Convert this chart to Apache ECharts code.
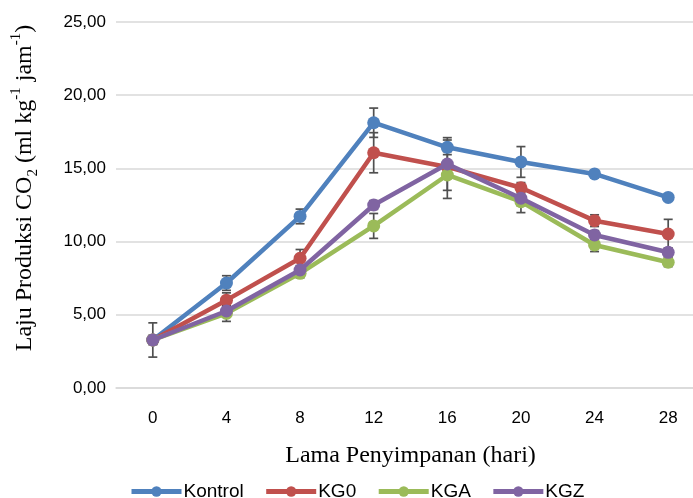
<!DOCTYPE html>
<html>
<head>
<meta charset="utf-8">
<script src="https://cdn.jsdelivr.net/npm/echarts@6/dist/echarts.min.js"></script>
<style>
html,body{margin:0;padding:0;background:#fff;}
#chart{width:693px;height:498px;}
</style>
</head>
<body>
<div id="chart"></div>
<script>
const categories = ['0','4','8','12','16','20','24','28'];
const seriesNames = ['Kontrol','KG0','KGA','KGZ'];
const kontrol = [3.28, 7.17, 11.72, 18.12, 16.44, 15.44, 14.62, 13.02];
const kg0     = [3.28, 6.00, 8.86, 16.07, 15.10, 13.68, 11.43, 10.52];
const kga     = [3.28, 5.10, 7.83, 11.07, 14.55, 12.73, 9.77, 8.59];
const kgz     = [3.28, 5.26, 8.06, 12.50, 15.30, 12.96, 10.45, 9.27];
const errKontrol = [1.17, 0.50, 0.50, 1.00, 0.50, 1.05, 0.20, 0.15];
const errKg0     = [0.30, 0.50, 0.60, 1.37, 0.30, 0.35, 0.40, 1.00];
const errKga     = [0.30, 0.55, 0.30, 0.85, 1.60, 0.75, 0.45, 0.30];
const errKgz     = [0.30, 0.30, 0.30, 0.30, 1.80, 0.50, 0.30, 0.30];
const yTicks = [0, 5, 10, 15, 20, 25];
const colors = ['#4F81BD', '#C0504D', '#9BBB59', '#8064A2'];

const values = [kontrol, kg0, kga, kgz];
const errors = [errKontrol, errKg0, errKga, errKgz];

const chart = echarts.init(document.getElementById('chart'), null, {renderer: 'canvas'});

function errorSeries(vals, errs, idx) {
  return {
    type: 'custom',
    name: seriesNames[idx] + '_err',
    z: 1,
    silent: true,
    data: vals.map((v, i) => [i, v - errs[i], v + errs[i]]),
    renderItem: function (params, api) {
      const x = api.value(0);
      const lo = api.coord([x, api.value(1)]);
      const hi = api.coord([x, api.value(2)]);
      const hw = 4.5;
      const style = {stroke: '#505050', lineWidth: 1.7};
      return {
        type: 'group',
        children: [
          {type: 'line', shape: {x1: hi[0], y1: hi[1], x2: lo[0], y2: lo[1]}, style: style},
          {type: 'line', shape: {x1: hi[0] - hw, y1: hi[1], x2: hi[0] + hw, y2: hi[1]}, style: style},
          {type: 'line', shape: {x1: lo[0] - hw, y1: lo[1], x2: lo[0] + hw, y2: lo[1]}, style: style}
        ]
      };
    }
  };
}

const lineSeries = values.map((vals, i) => ({
  type: 'line',
  name: seriesNames[i],
  data: vals,
  z: 2 + i,
  symbol: 'circle',
  symbolSize: 13,
  color: colors[i],
  lineStyle: {width: 4.5, color: colors[i]},
  itemStyle: {color: colors[i]},
  animation: false
}));

const errSeries = values.map((vals, i) => errorSeries(vals, errors[i], i));

chart.setOption({
  animation: false,
  backgroundColor: '#ffffff',
  grid: {left: 116, top: 22, height: 366, width: 589, outerBoundsMode: 'none', containLabel: false},
  legend: {
    data: seriesNames,
    top: 477,
    left: 124,
    itemWidth: 50,
    itemHeight: 13,
    itemGap: 20,
    lineStyle: {width: 5},
    textStyle: {fontFamily: 'Liberation Sans', fontSize: 19, color: '#000', padding: [0, 0, 0, -3]}
  },
  xAxis: {
    type: 'category',
    data: categories,
    boundaryGap: true,
    axisLine: {show: true, lineStyle: {color: '#d9d9d9', width: 1.5}},
    axisTick: {show: false},
    axisLabel: {margin: 22, fontFamily: 'Liberation Sans', fontSize: 17, color: '#000'},
    name: 'Lama Penyimpanan (hari)',
    nameLocation: 'middle',
    nameGap: 56,
    nameTextStyle: {fontFamily: 'Liberation Serif', fontSize: 24, color: '#000'}
  },
  yAxis: {
    type: 'value',
    min: 0,
    max: 25,
    interval: 5,
    axisLine: {show: false},
    axisTick: {show: false},
    splitLine: {lineStyle: {color: '#d9d9d9', width: 1.5}},
    axisLabel: {
      margin: 10,
      fontFamily: 'Liberation Sans', fontSize: 17, color: '#000',
      formatter: v => yTicks.includes(v) ? v.toFixed(2).replace('.', ',') : ''
    },
    name: '{n|Laju Produksi CO}{sub|2}{n| (ml kg}{sup|-1}{n| jam}{sup|-1}{n|)}',
    nameLocation: 'middle',
    nameGap: 75,
    nameRotate: 90,
    nameTextStyle: {
      fontFamily: 'Liberation Serif', fontSize: 24, color: '#000',
      padding: [0, 0, 0, 34],
      rich: {
        n: {fontFamily: 'Liberation Serif', fontSize: 24, color: '#000', lineHeight: 32, verticalAlign: 'middle'},
        sub: {fontFamily: 'Liberation Serif', fontSize: 15, color: '#000', lineHeight: 32, verticalAlign: 'bottom'},
        sup: {fontFamily: 'Liberation Serif', fontSize: 15, color: '#000', lineHeight: 32, verticalAlign: 'top'}
      }
    }
  },
  series: errSeries.concat(lineSeries)
});
</script>
</body>
</html>
